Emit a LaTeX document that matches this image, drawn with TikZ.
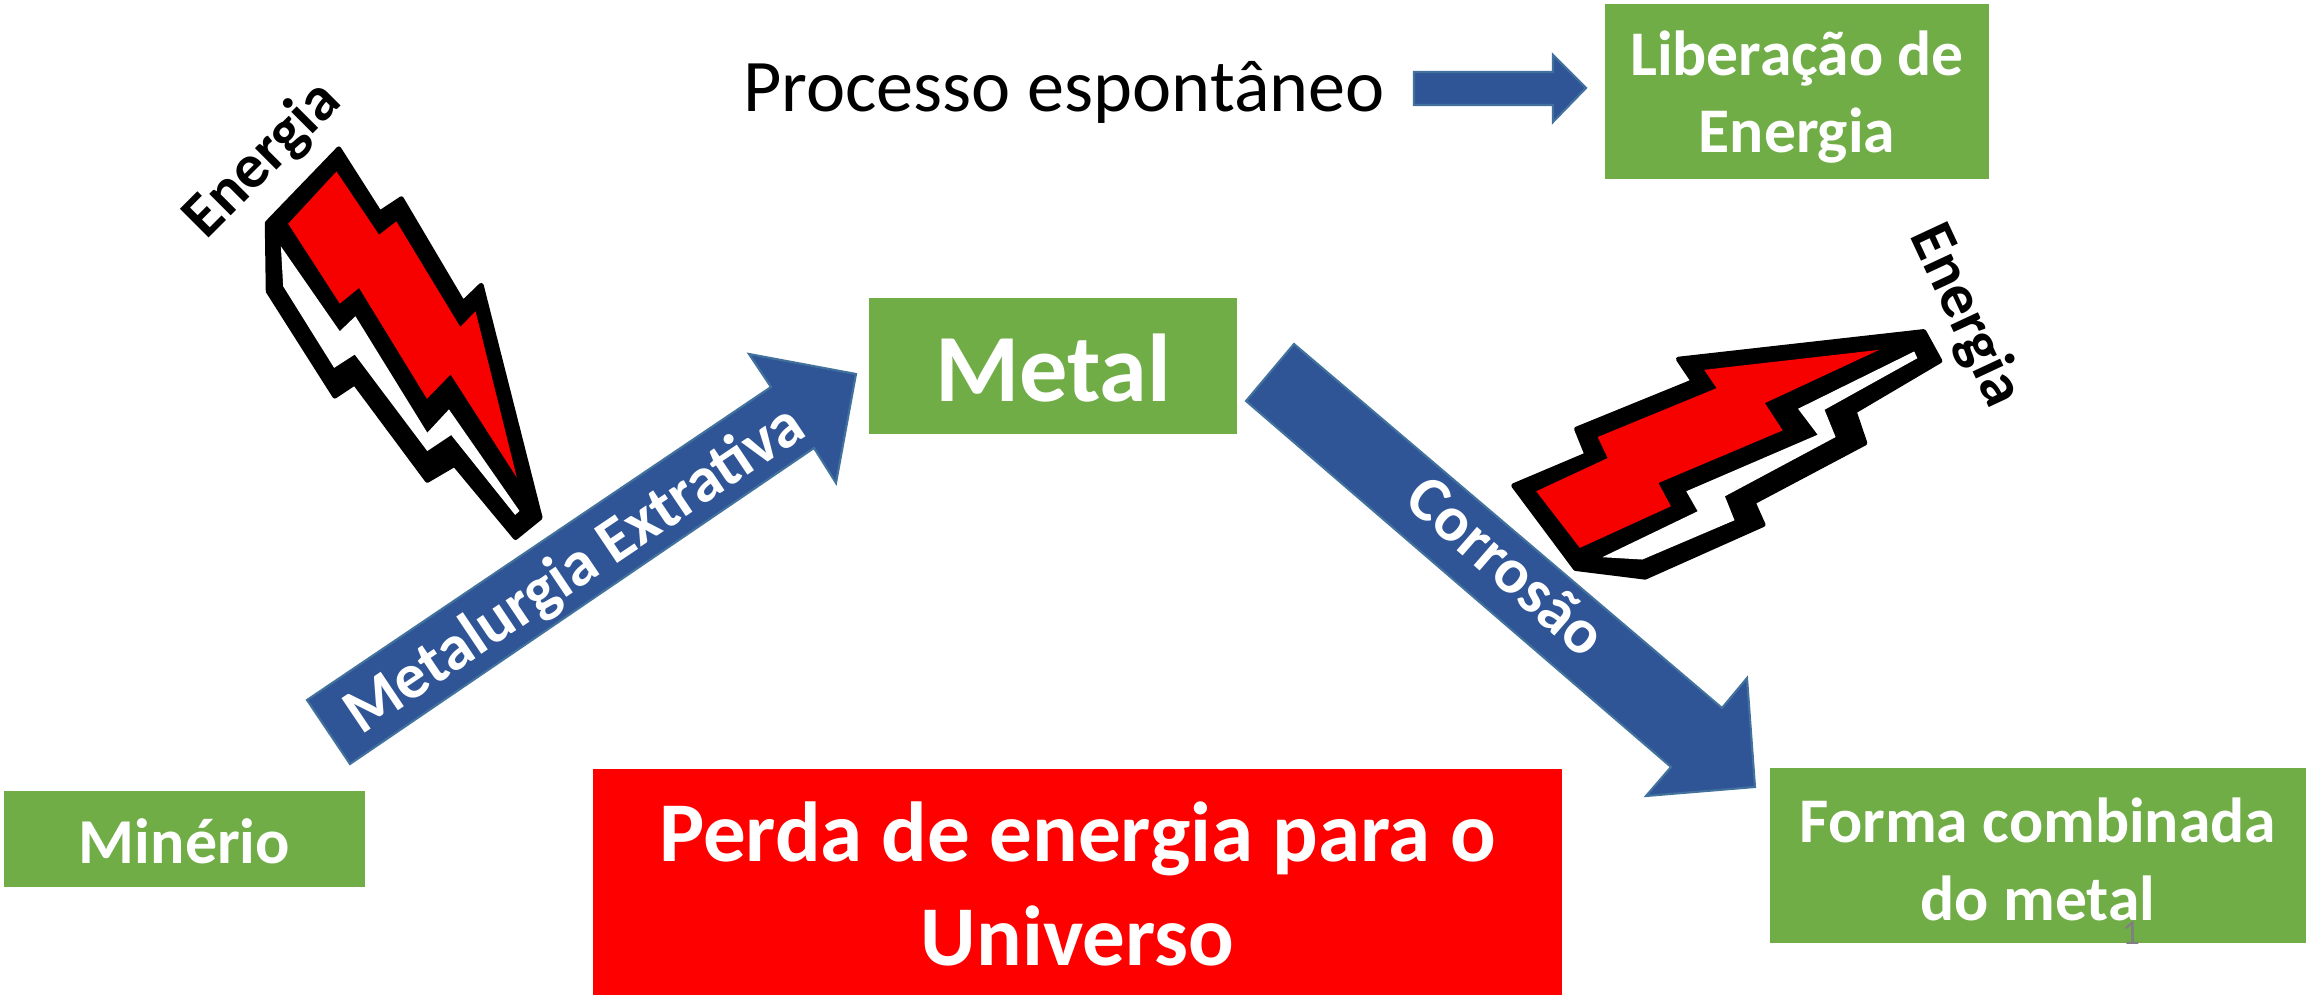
\documentclass[tikz,border=0pt]{standalone}
\usepackage{fontspec}
\setmainfont{Carlito}
\definecolor{boxgreen}{HTML}{70AD47}
\definecolor{arrowblue}{HTML}{2F5597}
\definecolor{arrowedge}{HTML}{41719C}
\definecolor{boltred}{HTML}{F70000}
\tikzset{
  greenbox/.style={fill=boxgreen,text=white,font=\bfseries,inner sep=0pt,align=center,anchor=center},
  redbox/.style={fill=red,text=white,font=\bfseries,inner sep=0pt,align=center,anchor=center},
  blockarrow/.style={fill=arrowblue,draw=arrowedge,line width=0.6pt,line join=miter},
  arrowtext/.style={text=white,font=\bfseries\fontsize{18.2}{21}\selectfont,inner sep=0pt,anchor=base},
  bolttext/.style={text=black,font=\bfseries\fontsize{17.8}{21}\selectfont,inner sep=0pt,anchor=center},
  boltouter/.style={fill=black,draw=black,line width=1.4pt,line join=round},
  boltwhite/.style={fill=white},
  boltinner/.style={fill=boltred}
}
\begin{document}
\begin{tikzpicture}[x=0.01cm,y=-0.01cm]
\useasboundingbox (0,0) rectangle (2306,995);

% boxes: filled rectangles with their labels set as separate, offset text lines
\node[greenbox,minimum width=3.68cm,minimum height=1.36cm] (metal) at (1053,366) {};
\node[greenbox,minimum width=3.84cm,minimum height=1.75cm] (liberacao) at (1797,91.5) {};
\node[greenbox,minimum width=3.61cm,minimum height=0.96cm] (minerio) at (184.5,839) {};
\node[greenbox,minimum width=5.36cm,minimum height=1.75cm] (forma) at (2038,855.5) {};
\node[redbox,minimum width=9.69cm,minimum height=2.26cm] (perda) at (1077.5,882) {};

\node[text=white,inner sep=0pt,align=center,font=\bfseries\fontsize{27.4}{30}\selectfont] (metaltext) at (1053,368) {Metal};
\node[text=white,inner sep=0pt,align=center,font=\bfseries\fontsize{18.1}{22}\selectfont] (libtext) at (1797,97) {Liberação de\\Energia};
\node[text=white,inner sep=0pt,align=center,font=\bfseries\fontsize{18.2}{22}\selectfont] (mintext) at (184.5,841) {Minério};
\node[text=white,inner sep=0pt,align=center,font=\bfseries\fontsize{18.1}{22.2}\selectfont] (formatext) at (2038,859) {Forma combinada\\do metal};
\node[text=white,inner sep=0pt,align=center,font=\bfseries\fontsize{24.2}{29.4}\selectfont] (perdatext) at (1077.5,884) {Perda de energia para o\\Universo};

\node[inner sep=0pt,anchor=center,text=black,font=\fontsize{21.1}{25}\selectfont] (processo) at (1064,92) {Processo espontâneo};
\node[inner sep=0pt,anchor=center,text=gray,font=\fontsize{10}{12}\selectfont] (pagenum) at (2131,933) {1};

% block arrows
\draw[blockarrow] (307,700) -- (771,387) -- (749,354) -- (856,374) -- (836,483) -- (814,448) -- (350,764) -- cycle;
\draw[blockarrow] (1294,344) -- (1722,708) -- (1747,678) -- (1755,787) -- (1646,796) -- (1671,767) -- (1246,401) -- cycle;
\draw[blockarrow] (1414,72) -- (1553,72) -- (1553,55) -- (1586,88) -- (1553,122) -- (1553,105) -- (1414,105) -- cycle;

% left bolt: zoom coordinates, 3 units per pixel
\begin{scope}[shift={(1.5cm,-0.5cm)},x=0.003333cm,y=-0.003333cm]
\draw[boltouter] (567,297) -- (690,490) -- (755,447) -- (940,760) -- (995,707) -- (1172,1405) -- (1098,1465) -- (915,1245) -- (833,1293) -- (615,1000) -- (555,1040) -- (355,725) -- (352,520) -- cycle;
\fill[boltwhite] (393,590) -- (570,845) -- (617,800) -- (833,1150) -- (898,1080) -- (1110,1385) -- (1097,1397) -- (905,1157) -- (833,1205) -- (615,915) -- (553,955) -- (400,710) -- cycle;
\fill[boltinner] (560,365) -- (688,555) -- (740,515) -- (932,832) -- (978,785) -- (1102,1285) -- (903,975) -- (832,1048) -- (628,715) -- (570,762) -- (415,522) -- cycle;
\end{scope}

% right bolt: zoom coordinates, 2.8 and 3 units per pixel
\begin{scope}[shift={(14.8cm,-2cm)},x=0.003571cm,y=-0.003333cm]
\draw[boltouter] (1240,395) -- (1285,483) -- (1045,635) -- (1075,730) -- (762,908) -- (790,975) -- (460,1133) -- (265,1107) -- (92,858) -- (297,765) -- (268,688) -- (595,545) -- (553,478) -- cycle;
\fill[boltwhite] (1213,455) -- (1222,475) -- (962,630) -- (993,712) -- (683,890) -- (710,962) -- (452,1080) -- (340,1073) -- (607,935) -- (575,875) -- (943,705) -- (888,627) -- cycle;
\fill[boltinner] (1115,450) -- (795,610) -- (845,692) -- (497,850) -- (532,920) -- (277,1045) -- (155,875) -- (355,775) -- (327,712) -- (660,565) -- (625,510) -- cycle;
\end{scope}

\node[arrowtext,rotate=33.9] (metalurgia) at (585,585) {Metalurgia Extrativa};
\node[arrowtext,rotate=-41] (corrosao) at (1493,582) {Corrosão};

\node[bolttext,rotate=45] (energiaa) at (263,160) {Energia};
\node[bolttext,rotate=-65] (energiab) at (1965,316) {Energia};
\end{tikzpicture}
\end{document}
